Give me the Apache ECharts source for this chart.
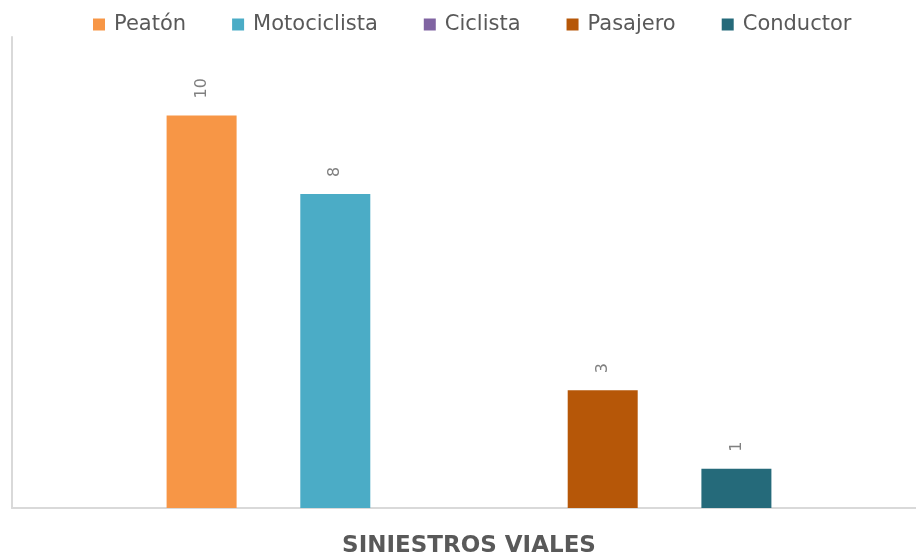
<!DOCTYPE html>
<html><head><meta charset="utf-8">
<script src="https://cdn.jsdelivr.net/npm/echarts@6/dist/echarts.min.js"></script>
<style>html,body{margin:0;padding:0;background:#fff}#c{width:916px;height:554px}</style>
</head><body><div id="c"></div>
<script>
const categories = ['SINIESTROS VIALES'];
const seriesNames = ['Peatón', 'Motociclista', 'Ciclista', 'Pasajero', 'Conductor'];
const peaton = [10];
const motociclista = [8];
const ciclista = [null];
const pasajero = [3];
const conductor = [1];
const colors = ['#F79646', '#4BACC6', '#8064A2', '#B65708', '#256A7A'];
const values = [peaton, motociclista, ciclista, pasajero, conductor];

const chart = echarts.init(document.getElementById('c'));
chart.setOption({
  animation: false,
  color: colors,
  grid: { left: 12, right: -10, top: 37, bottom: 46, containLabel: false, outerBoundsMode: 'none' },
  legend: {
    top: 9, left: 88,
    itemWidth: 12, itemHeight: 12, itemGap: 46,
    icon: 'rect',
    textStyle: { fontFamily: 'DejaVu Sans', fontSize: 21, color: '#595959', padding: [0, 0, 0, 4] },
    data: seriesNames
  },
  xAxis: {
    type: 'category', data: categories,
    axisLine: { show: true, lineStyle: { color: '#D9D9D9', width: 2 } },
    axisTick: { show: false },
    axisLabel: { margin: 27, fontFamily: 'DejaVu Sans', fontWeight: 'bold', fontSize: 23, color: '#595959' }
  },
  yAxis: {
    type: 'value', min: 0, max: 12,
    axisLine: { show: true, lineStyle: { color: '#D9D9D9', width: 2 } },
    axisTick: { show: false }, axisLabel: { show: false },
    splitLine: { show: false }
  },
  series: seriesNames.map((n, i) => ({
    name: n, type: 'bar', data: values[i],
    barWidth: 70, barGap: '91%',
    label: {
      show: true, position: 'top', rotate: 90, align: 'left', verticalAlign: 'middle',
      distance: 17, fontFamily: 'DejaVu Sans', fontSize: 16, color: '#808080'
    }
  }))
});
</script></body></html>
